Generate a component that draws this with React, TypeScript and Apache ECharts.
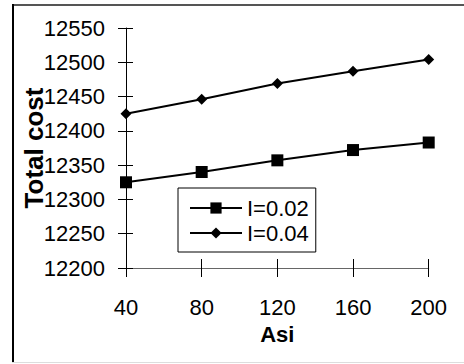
import React, { useEffect, useRef } from "react";
import * as echarts from "echarts";

const asi = [40, 80, 120, 160, 200];
const costI002 = [12325, 12340, 12357, 12372, 12383];
const costI004 = [12425, 12446, 12469, 12487, 12504];
const seriesNames = ["I=0.02", "I=0.04"];

const FONT = "'Liberation Sans', Arial, sans-serif";

export default function App() {
  const ref = useRef<HTMLDivElement>(null);
  useEffect(() => {
    if (!ref.current) return;
    const chart = echarts.init(ref.current, undefined, { renderer: "svg" });
    const xBase = { type: "value", min: 40, max: 200, interval: 40, gridIndex: 0, splitLine: { show: false } };
    const yBase = { type: "value", min: 12200, max: 12550, interval: 50, gridIndex: 0, splitLine: { show: false } };
    const plain = (v: number) => String(v);
    chart.setOption({
      animation: false,
      backgroundColor: "#fff",
      textStyle: { fontFamily: FONT },
      grid: { left: 126, right: 35.3, top: 28, bottom: 96, containLabel: false },
      xAxis: [
        {
          ...xBase,
          position: "bottom",
          axisLine: { show: true, lineStyle: { color: "#666", width: 1 } },
          axisTick: { show: true, inside: false, length: 9, lineStyle: { color: "#000", width: 1 } },
          axisLabel: { margin: 28, fontSize: 22, color: "#000", fontFamily: FONT, formatter: plain },
          name: "Asi",
          nameLocation: "middle",
          nameGap: 55,
          nameMoveOverlap: false,
          nameTextStyle: { fontSize: 22, fontWeight: "bold", color: "#000", fontFamily: FONT },
        },
        {
          ...xBase,
          position: "bottom",
          offset: 0,
          axisLine: { show: false },
          axisTick: { show: true, inside: true, length: 9, lineStyle: { color: "#000", width: 1 } },
          axisLabel: { show: false },
        },
      ],
      yAxis: [
        {
          ...yBase,
          position: "left",
          axisLine: { show: true, lineStyle: { color: "#000", width: 1 } },
          axisTick: { show: true, inside: false, length: 8, lineStyle: { color: "#000", width: 1 } },
          axisLabel: { margin: 21, fontSize: 22, color: "#000", fontFamily: FONT, formatter: plain },
          name: "Total cost",
          nameLocation: "middle",
          nameRotate: 90,
          nameGap: 79,
          nameMoveOverlap: false,
          nameTextStyle: { fontSize: 26, fontWeight: "bold", color: "#000", fontFamily: FONT },
        },
        {
          ...yBase,
          position: "left",
          offset: 0,
          axisLine: { show: false },
          axisTick: { show: true, inside: true, length: 7, lineStyle: { color: "#000", width: 1 } },
          axisLabel: { show: false },
        },
      ],
      legend: {
        orient: "vertical",
        left: 178,
        top: 188,
        padding: [9, 7, 8, 11],
        itemWidth: 52,
        itemHeight: 14,
        itemGap: 3,
        borderColor: "#000",
        borderWidth: 1,
        backgroundColor: "#fff",
        textStyle: { fontSize: 22, color: "#000", fontFamily: FONT, lineHeight: 22 },
        data: seriesNames,
      },
      series: [
        {
          name: seriesNames[0],
          type: "line",
          xAxisIndex: 0,
          yAxisIndex: 0,
          data: asi.map((x, i) => [x, costI002[i]]),
          symbol: "rect",
          symbolSize: 12,
          showAllSymbol: true,
          itemStyle: { color: "#000" },
          lineStyle: { color: "#000", width: 2 },
        },
        {
          name: seriesNames[1],
          type: "line",
          xAxisIndex: 0,
          yAxisIndex: 0,
          data: asi.map((x, i) => [x, costI004[i]]),
          symbol: "diamond",
          symbolSize: 11,
          showAllSymbol: true,
          itemStyle: { color: "#000" },
          lineStyle: { color: "#000", width: 2 },
        },
      ],
      graphic: [
        { type: "line", shape: { x1: 12, y1: 5, x2: 464, y2: 5 }, style: { stroke: "#555", lineWidth: 2 } },
        { type: "line", shape: { x1: 13, y1: 4, x2: 13, y2: 362 }, style: { stroke: "#000", lineWidth: 2 } },
        { type: "line", shape: { x1: 12, y1: 362.5, x2: 464, y2: 362.5 }, style: { stroke: "#ddd", lineWidth: 1 } },
      ],
    });
    return () => chart.dispose();
  }, []);
  return (
    <div
      ref={ref}
      style={{ position: "fixed", left: 0, top: 0, width: 464, height: 364 }}
    />
  );
}
